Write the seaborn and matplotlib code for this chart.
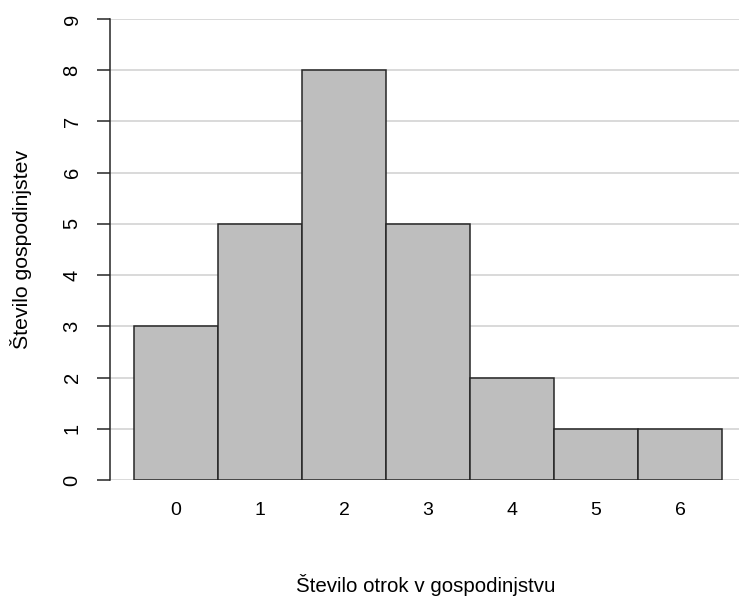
import matplotlib
matplotlib.use("Agg")
import matplotlib.pyplot as plt
import seaborn as sns
import pandas as pd

categories = ["0", "1", "2", "3", "4", "5", "6"]
counts = [3, 5, 8, 5, 2, 1, 1]
y_ticks = list(range(0, 10))

sns.set_theme(style="white")
plt.rcParams['font.family'] = ['Liberation Sans', 'DejaVu Sans']

df = pd.DataFrame({"otroci": categories, "gospodinjstva": counts})

fig = plt.figure(figsize=(7.39, 5.99), dpi=100)
W, H = 739, 599
ax = fig.add_axes([110 / W, (H - 480) / H, (739 - 110) / W, (480 - 19) / H])

for y in y_ticks:
    ax.axhline(y, color="#d3d3d3", linewidth=1.2, zorder=0)

sns.barplot(data=df, x="otroci", y="gospodinjstva", color="#bebebe",
            saturation=1, width=1.0, edgecolor="#262626", linewidth=1.1,
            ax=ax, zorder=2)

ax.set_xlim(-0.5 - 24 / 84, 6.5 + 17 / 84)
ax.set_ylim(0, 9)
ax.set_yticks(y_ticks)
ax.set_yticklabels([str(v) for v in y_ticks], rotation=90, va="center",
                   fontsize=14.5, color="black")
ax.tick_params(axis="y", left=True, length=9.5, width=1.1, color="#262626",
               pad=11)
ax.tick_params(axis="x", bottom=False, length=0, pad=16, labelsize=14,
               labelcolor="black")

for s in ["top", "right", "bottom"]:
    ax.spines[s].set_visible(False)
ax.spines["left"].set_color("#262626")
ax.spines["left"].set_linewidth(1.1)

ax.set_xlabel("")
ax.set_ylabel("")
fig.text(426 / W, 1 - 585 / H, "Število otrok v gospodinjstvu", ha="center",
         va="center", fontsize=14.8, color="black")
fig.text(21 / W, 1 - 249 / H, "Število gospodinjstev", ha="center",
         va="center", rotation=90, fontsize=15.3, color="black")

fig.savefig("out.png", dpi=100)
